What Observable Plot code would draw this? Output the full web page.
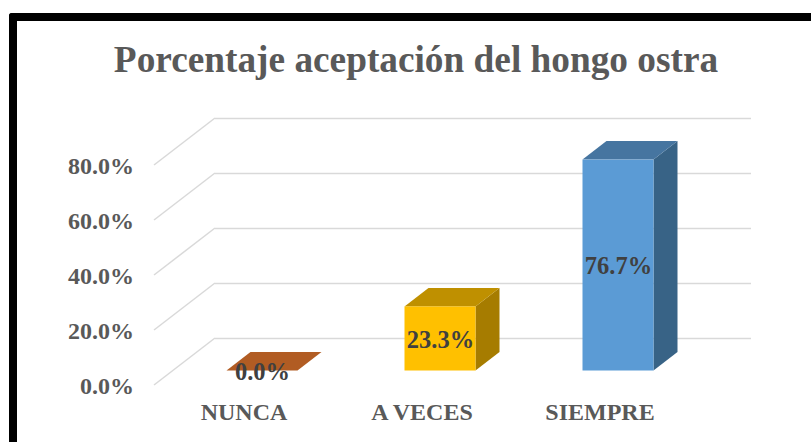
<!DOCTYPE html>
<html>
<head>
<meta charset="utf-8">
<script src="https://cdn.jsdelivr.net/npm/d3@7"></script>
<script src="https://cdn.jsdelivr.net/npm/@observablehq/plot@0.6"></script>
<style>
html,body{margin:0;padding:0;background:#fff;overflow:hidden}
#page{position:relative;width:811px;height:442px;overflow:hidden}
#frame{position:absolute;left:9px;top:13px;width:820px;height:460px;border-left:8px solid #000;border-top:8px solid #000;border-top-left-radius:3px;box-sizing:border-box}
#title{position:absolute;left:0;top:37px;width:832px;margin:0;text-align:center;font:bold 37.3px/46px "Liberation Serif",serif;color:#595959}
#chart{position:absolute;left:0;top:0}
svg{display:block;background:transparent}
</style>
</head>
<body>
<div id="page">
  <div id="frame"></div>
  <div id="title">Porcentaje aceptación del hongo ostra</div>
  <div id="chart"></div>
</div>
<script>
const categories = ["NUNCA", "A VECES", "SIEMPRE"];
const values = [0, 23.3, 76.7];
const ticks = [0, 20, 40, 60, 80];

const frontColors = ["#ED7D31", "#FFC000", "#5B9BD5"];
const topColors = ["#B15C23", "#BF9000", "#4675A0"];
const sideColors = ["#8E4A1C", "#A67C00", "#386386"];

const table = categories.map((category, i) => ({category, value: values[i], i}));
const fmt = d => d.toFixed(1) + "%";
const serif = "Liberation Serif";

// oblique projection of the 3-D chart, in pixels
const wall = {dx: 61, dy: -47};
const floor = {dx: 18.5, dy: -14.5};
const depth = {dx: 24, dy: -18.5};
const SVGNS = "http://www.w3.org/2000/svg";

function polygon(parent, pts, fill) {
  const p = document.createElementNS(SVGNS, "polygon");
  p.setAttribute("points", pts.map(q => q.join(",")).join(" "));
  p.setAttribute("fill", fill);
  parent.appendChild(p);
}

function floorLines(index, scales, _values, dims) {
  const g = document.createElementNS(SVGNS, "g");
  for (const t of ticks) {
    const y = scales.y(t), x = dims.marginLeft;
    const l = document.createElementNS(SVGNS, "line");
    l.setAttribute("x1", x); l.setAttribute("y1", y);
    l.setAttribute("x2", x + wall.dx); l.setAttribute("y2", y + wall.dy);
    l.setAttribute("stroke", "#D9D9D9"); l.setAttribute("stroke-width", 1.5);
    g.appendChild(l);
  }
  return g;
}

function barDepth(index, scales) {
  const g = document.createElementNS(SVGNS, "g");
  const bw = scales.x.bandwidth();
  table.forEach(d => {
    const x0 = scales.x(d.category) + floor.dx, x1 = x0 + bw;
    const yt = scales.y(d.value) + floor.dy, yb = scales.y(0) + floor.dy;
    if (d.value > 0) polygon(g, [[x1, yt], [x1 + depth.dx, yt + depth.dy], [x1 + depth.dx, yb + depth.dy], [x1, yb]], sideColors[d.i]);
    polygon(g, [[x0, yt], [x0 + depth.dx, yt + depth.dy], [x1 + depth.dx, yt + depth.dy], [x1, yt]], topColors[d.i]);
  });
  return g;
}

const plot = Plot.plot({
  width: 811,
  height: 442,
  marginLeft: 154,
  marginRight: 121,
  marginTop: 165,
  marginBottom: 57,
  style: {background: "transparent", fontFamily: serif},
  x: {type: "band", domain: categories, paddingInner: 0.6, paddingOuter: 0.2985, label: null},
  y: {domain: [0, 80], label: null},
  color: {domain: categories, range: frontColors},
  marks: [
    Plot.ruleY(ticks, {stroke: "#D9D9D9", strokeWidth: 1.5, dx: wall.dx, dy: wall.dy}),
    floorLines,
    barDepth,
    Plot.barY(table, {x: "category", y: "value", fill: "category", dx: floor.dx, dy: floor.dy}),
    Plot.axisY({ticks, tickFormat: fmt, tickSize: 0, tickPadding: 20.5, label: null, dy: 1,
      fontSize: 24, fontWeight: "bold", fontFamily: serif, fill: "#595959"}),
    Plot.axisX({tickSize: 0, tickPadding: 17, label: null,
      fontSize: 24, fontWeight: "bold", fontFamily: serif, fill: "#595959"}),
    Plot.text(table, {x: "category", y: d => d.value / 2, text: d => fmt(d.value),
      dx: floor.dx, dy: floor.dy + 1, fontSize: 24.5, fontWeight: "bold", fontFamily: serif, fill: "#404040"})
  ]
});
document.getElementById("chart").appendChild(plot);
</script>
</body>
</html>
